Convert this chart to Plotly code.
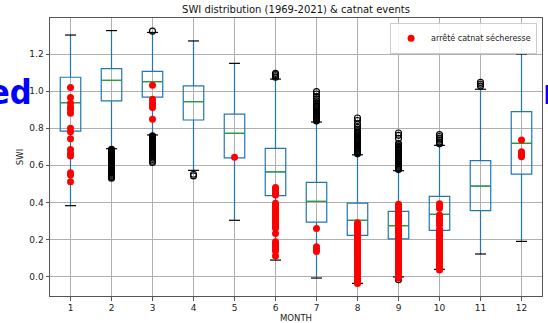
import plotly.graph_objects as go

# ---------------- data ----------------
months = [1, 2, 3, 4, 5, 6, 7, 8, 9, 10, 11, 12]
q1 = [0.785, 0.948, 0.969, 0.845, 0.640, 0.436, 0.293, 0.222, 0.203, 0.249, 0.355, 0.553]
median = [0.938, 1.059, 1.052, 0.944, 0.773, 0.565, 0.405, 0.303, 0.274, 0.335, 0.488, 0.719]
q3 = [1.076, 1.122, 1.108, 1.029, 0.877, 0.692, 0.508, 0.396, 0.351, 0.432, 0.625, 0.890]
lowerfence = [0.382, 0.690, 0.764, 0.573, 0.303, 0.088, -0.009, -0.038, -0.003, 0.038, 0.121, 0.189]
upperfence = [1.304, 1.328, 1.318, 1.272, 1.151, 1.066, 0.834, 0.657, 0.571, 0.708, 1.011, 1.202]

outliers = {
    2: [0.686, 0.681, 0.676, 0.670, 0.665, 0.659, 0.653, 0.648, 0.642, 0.636, 0.630,
        0.624, 0.618, 0.612, 0.606, 0.600, 0.594, 0.588, 0.582, 0.576, 0.570, 0.564,
        0.558, 0.552, 0.546, 0.540, 0.535, 0.530],
    3: [1.325, 0.760, 0.755, 0.750, 0.745, 0.740, 0.735, 0.730, 0.725, 0.720, 0.715,
        0.710, 0.705, 0.700, 0.695, 0.690, 0.685, 0.680, 0.675, 0.670, 0.665, 0.660,
        0.655, 0.648, 0.640, 0.632, 0.622, 0.615],
    4: [0.552, 0.543],
    6: [1.076, 1.084, 1.091, 1.097],
    7: [0.840, 0.846, 0.852, 0.858, 0.864, 0.870, 0.876, 0.882, 0.888, 0.894, 0.900,
        0.906, 0.912, 0.918, 0.925, 0.935, 0.948, 0.960, 0.972, 0.985, 0.998],
    8: [0.662, 0.668, 0.674, 0.680, 0.686, 0.692, 0.698, 0.704, 0.710, 0.716, 0.722,
        0.728, 0.734, 0.740, 0.746, 0.752, 0.758, 0.764, 0.770, 0.778, 0.786, 0.795,
        0.805, 0.822, 0.842, 0.856],
    9: [0.577, 0.583, 0.589, 0.595, 0.601, 0.607, 0.613, 0.619, 0.625, 0.631, 0.637,
        0.643, 0.649, 0.655, 0.661, 0.667, 0.673, 0.679, 0.685, 0.691, 0.697, 0.703,
        0.710, 0.718, 0.745, 0.762, 0.775, -0.018],
    10: [0.716, 0.726, 0.736, 0.746, 0.756, 0.766],
    11: [1.028, 1.038, 1.048],
}

catnat = {
    1: [1.020, 0.967, 0.935, 0.914, 0.900, 0.881, 0.800, 0.782, 0.744, 0.686, 0.665,
        0.650, 0.560, 0.548, 0.511],
    3: [1.032, 0.957, 0.940, 0.925, 0.913, 0.849],
    5: [0.643],
    6: [0.480, 0.470, 0.460, 0.450, 0.440, 0.395, 0.385, 0.375, 0.362, 0.350, 0.340,
        0.330, 0.320, 0.310, 0.300, 0.290, 0.280, 0.270, 0.260, 0.232, 0.187, 0.177,
        0.167, 0.157, 0.147, 0.137, 0.110],
    7: [0.259, 0.160, 0.148, 0.135],
    8: [0.290, 0.280, 0.270, 0.260, 0.250, 0.240, 0.230, 0.220, 0.210, 0.200, 0.190,
        0.180, 0.170, 0.160, 0.150, 0.140, 0.130, 0.120, 0.110, 0.100, 0.090, 0.080,
        0.070, 0.060, 0.050, 0.040, 0.030, 0.020, 0.010, 0.000, -0.010, -0.020, -0.030,
        -0.038],
    9: [0.390, 0.380, 0.370, 0.360, 0.350, 0.340, 0.330, 0.320, 0.310, 0.300, 0.290,
        0.280, 0.270, 0.260, 0.250, 0.240, 0.230, 0.220, 0.210, 0.200, 0.190, 0.180,
        0.170, 0.160, 0.150, 0.140, 0.130, 0.120, 0.110, 0.100, 0.090, 0.080, 0.070,
        0.060, 0.050, 0.040, 0.030, 0.020, 0.010, 0.000, -0.010],
    10: [0.392, 0.380, 0.368, 0.331, 0.318, 0.305, 0.291, 0.277, 0.254, 0.244, 0.234,
         0.224, 0.214, 0.204, 0.194, 0.184, 0.174, 0.164, 0.154, 0.144, 0.134, 0.124,
         0.114, 0.104, 0.094, 0.084, 0.074, 0.064, 0.054, 0.044, 0.034],
    12: [0.737, 0.673, 0.664, 0.655, 0.647],
}

title = "SWI distribution (1969-2021) & catnat events"
legend_label = "arrêté catnat sécheresse"
x_title = "MONTH"
y_title = "SWI"

# ---------------- figure ----------------
BOX_W = 0.5
CAP_W = 0.27
FONT = "DejaVu Sans"

fig = go.Figure()

fig.add_trace(go.Box(
    x=months, q1=q1, median=median, q3=q3,
    lowerfence=lowerfence, upperfence=upperfence,
    boxpoints=False, width=BOX_W, whiskerwidth=0,
    line=dict(color="#1f77b4", width=1.2),
    fillcolor="rgba(0,0,0,0)", showlegend=False, hoverinfo="skip",
))

# medians (green)
mx, my = [], []
for m, v in zip(months, median):
    mx += [m - BOX_W / 2, m + BOX_W / 2, None]
    my += [v, v, None]
fig.add_trace(go.Scatter(x=mx, y=my, mode="lines",
                         line=dict(color="#2ca02c", width=1.2),
                         showlegend=False, hoverinfo="skip"))

# caps (black)
cx, cy = [], []
for m, lo, hi in zip(months, lowerfence, upperfence):
    for v in (lo, hi):
        cx += [m - CAP_W / 2, m + CAP_W / 2, None]
        cy += [v, v, None]
fig.add_trace(go.Scatter(x=cx, y=cy, mode="lines",
                         line=dict(color="black", width=1.2),
                         showlegend=False, hoverinfo="skip"))

# outliers
ox, oy = [], []
for m, vals in outliers.items():
    ox += [m] * len(vals)
    oy += vals
fig.add_trace(go.Scatter(x=ox, y=oy, mode="markers",
                         marker=dict(symbol="circle-open", color="black", size=6,
                                     line=dict(width=1.1)),
                         showlegend=False, hoverinfo="skip"))

# catnat events
rx, ry = [], []
for m, vals in catnat.items():
    rx += [m] * len(vals)
    ry += vals
fig.add_trace(go.Scatter(x=rx, y=ry, mode="markers", name=legend_label,
                         marker=dict(symbol="circle", color="red", size=7),
                         showlegend=True))

axis_common = dict(
    showgrid=True, gridcolor="#b0b0b0", gridwidth=0.8,
    showline=True, linecolor="#555555", linewidth=1, mirror=True,
    ticks="outside", ticklen=3.5, tickcolor="#555555",
    zeroline=False, automargin=False,
    tickfont=dict(family=FONT, size=9, color="#222222"),
)

fig.update_layout(
    width=548, height=323,
    margin=dict(l=50, r=6, t=18, b=27, autoexpand=False),
    paper_bgcolor="white", plot_bgcolor="white",
    font=dict(family=FONT, color="#222222"),
    title=dict(text=title, x=296 / 548, xanchor="center",
               y=1 - 9 / 323, yanchor="middle", automargin=False,
               font=dict(family=FONT, size=10, color="#111111")),
    xaxis=dict(axis_common, range=[0.5, 12.5], tickmode="array", tickvals=months,
               ticktext=[str(m) for m in months],
               title=dict(text=x_title, font=dict(family=FONT, size=8.5), standoff=2)),
    yaxis=dict(axis_common, range=[-0.106, 1.396], tickmode="array",
               tickvals=[0.0, 0.2, 0.4, 0.6, 0.8, 1.0, 1.2],
               ticktext=["0.0", "0.2", "0.4", "0.6", "0.8", "1.0", "1.2"],
               title=dict(text=y_title, font=dict(family=FONT, size=8.5), standoff=4)),
    legend=dict(x=0.99, y=0.983, xanchor="right", yanchor="top",
                bgcolor="rgba(255,255,255,0.85)", bordercolor="#cccccc", borderwidth=1,
                font=dict(family=FONT, size=8, color="#222222"),
                itemwidth=30, tracegroupgap=0),
    showlegend=True,
)

# partially hidden large blue text around the plot
BLUE_FONT = "DejaVu Sans Condensed, Liberation Sans Narrow, Liberation Sans, Arial"
fig.add_annotation(text="<b>ed</b>", xref="paper", yref="paper",
                   x=(34 - 50) / 492, y=(296 - 92) / 278, xanchor="right", yanchor="middle",
                   showarrow=False,
                   font=dict(family=BLUE_FONT, size=34, color="#0000ff"))
fig.add_annotation(text="<b>r</b>", xref="paper", yref="paper",
                   x=(541 - 50) / 492, y=(296 - 92) / 278, xanchor="left", yanchor="middle",
                   showarrow=False,
                   font=dict(family=BLUE_FONT, size=34, color="#0000ff"))

fig.write_html("out.html")
